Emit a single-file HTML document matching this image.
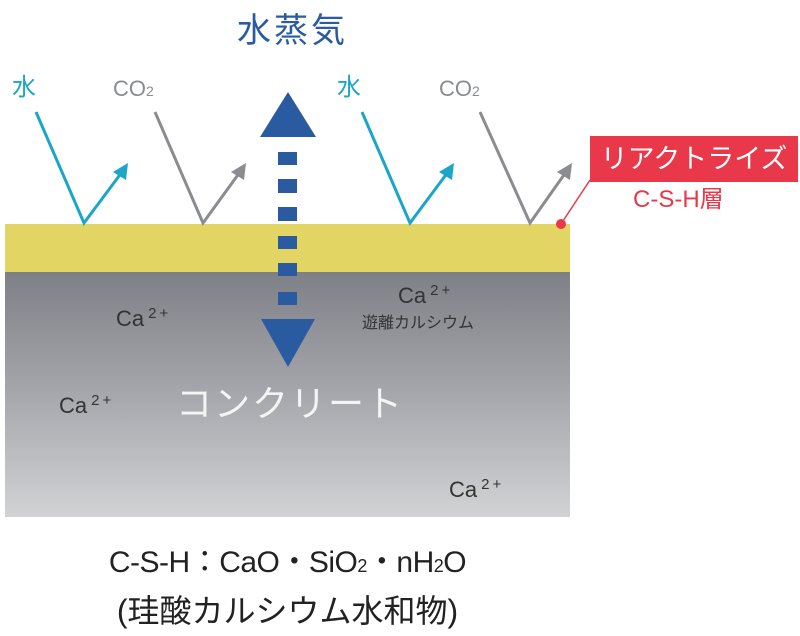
<!DOCTYPE html>
<html><head><meta charset="utf-8"><style>
body{margin:0;width:800px;height:636px;background:#fff;overflow:hidden;position:relative;font-family:"Liberation Sans","Noto Sans CJK JP",sans-serif}
.t{position:absolute;white-space:nowrap;line-height:1}
.ca{font-size:22px;color:#333}
.ca sup{font-size:15px;vertical-align:8px;margin-left:4px;letter-spacing:3px}
</style></head><body>
<div style="position:absolute;left:5px;top:224px;width:565px;height:48px;background:#e3d563"></div>
<div style="position:absolute;left:5px;top:272px;width:565px;height:245px;background:linear-gradient(#7e8087,#a6a7ac 50%,#d2d3d5)"></div>
<svg width="800" height="636" style="position:absolute;left:0;top:0">
<g fill="none" stroke-width="3">
<polyline points="36,112 84,223 122,172" stroke="#1aa6c8"/>
<polyline points="155,112 203,223 240,172" stroke="#8a8c90"/>
<polyline points="362,112 410,223 448,172" stroke="#1aa6c8"/>
<polyline points="480,112 530,223 566,172" stroke="#8a8c90"/>
<line x1="590" y1="180" x2="561" y2="224" stroke="#e8384a" stroke-width="1.5"/>
</g>
<polygon points="128,163 113,172 126,180" fill="#1aa6c8"/>
<polygon points="246,163 231,172 244,180" fill="#8a8c90"/>
<polygon points="454,163 439,172 452,180" fill="#1aa6c8"/>
<polygon points="572,163 557,172 570,180" fill="#8a8c90"/>
<circle cx="561" cy="224" r="5" fill="#e8384a"/>
<polygon points="288,92 260,137 316,137" fill="#2a5aa0"/>
<polygon points="261,319 315,319 288,367" fill="#2a5aa0"/>
<g fill="#2a5aa0">
<rect x="278" y="152" width="19" height="13"/><rect x="278" y="179" width="19" height="14"/>
<rect x="278" y="207" width="19" height="14"/><rect x="278" y="236" width="19" height="13"/>
<rect x="278" y="263" width="19" height="13"/><rect x="278" y="292" width="19" height="13"/>
</g>
</svg>
<div class="t" style="left:237px;top:14px;font-size:34px;letter-spacing:3px;color:#2a5aa0">水蒸気</div>
<div class="t" style="left:12px;top:76px;font-size:24px;color:#1aa6c8">水</div>
<div class="t" style="left:113px;top:78px;font-size:22px;color:#8a8c90">CO<span style="font-size:14px">2</span></div>
<div class="t" style="left:337px;top:76px;font-size:24px;color:#1aa6c8">水</div>
<div class="t" style="left:439px;top:78px;font-size:22px;color:#8a8c90">CO<span style="font-size:14px">2</span></div>
<div style="position:absolute;left:590px;top:136px;width:208px;height:46px;background:#e8384a;color:#fff;font-size:27px;line-height:46px;text-align:center">リアクトライズ</div>
<div class="t" style="left:633px;top:188px;font-size:24px;color:#e8384a">C-S-H層</div>
<div class="t ca" style="left:116px;top:306px">Ca<sup>2+</sup></div>
<div class="t ca" style="left:398px;top:283px">Ca<sup>2+</sup></div>
<div class="t" style="left:362px;top:316px;font-size:16px;color:#333">遊離カルシウム</div>
<div class="t ca" style="left:59px;top:393px">Ca<sup>2+</sup></div>
<div class="t ca" style="left:449px;top:477px">Ca<sup>2+</sup></div>
<div class="t" style="left:176px;top:386px;font-size:36px;letter-spacing:2px;color:#f4f4f4">コンクリート</div>
<div class="t" style="left:90px;top:548px;width:395px;text-align:center;font-size:30px;letter-spacing:-0.5px;color:#222">C-S-H：CaO・SiO<span style="font-size:18px">2</span>・nH<span style="font-size:18px">2</span>O</div>
<div class="t" style="left:90px;top:595px;width:395px;text-align:center;font-size:32px;color:#222">(珪酸カルシウム水和物)</div>
</body></html>
